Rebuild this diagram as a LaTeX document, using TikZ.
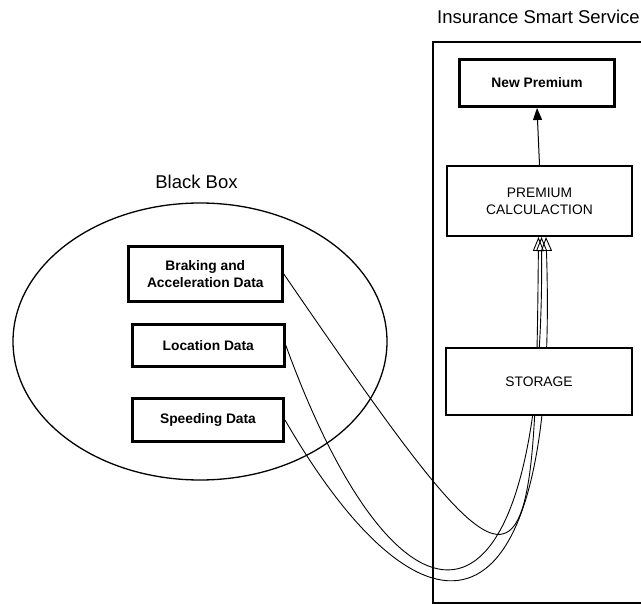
\documentclass[tikz,border=0pt]{standalone}
\usepackage{fontspec}
\setmainfont{Liberation Sans}
\usetikzlibrary{shapes}
\usetikzlibrary{positioning}
\usetikzlibrary{arrows.meta}

\begin{document}
\begin{tikzpicture}[
    x=1pt, y=-1pt,
    font=\fontsize{13.8}{16.7}\selectfont
]
\tikzset{
    databox/.style = {rectangle, draw=black, line width=3pt, align=center, inner sep=0pt, font=\fontsize{13.8}{16.7}\selectfont\bfseries},
    procbox/.style = {rectangle, draw=black, line width=2pt, align=center, inner sep=0pt, fill=white},
    groupline/.style = {draw=black, line width=1.3pt},
    title/.style = {anchor=base, font=\fontsize{18.5}{22}\selectfont},
    edgep/.style = {-{Triangle[length=12pt,width=9pt]}, line width=1pt},
    edged/.style = {-{Triangle[open,length=14pt,width=11pt]}, line width=0.9pt}
}
\useasboundingbox (0,0) rectangle (641,604);
% service frame and black box
\draw[groupline] (641,42) -- (433,42) -- (433,603) -- (641,603);
\node[ellipse, groupline, minimum width=374pt, minimum height=277pt] at (200,341.5) (blackbox) {};
\node[title] at (538.5,23.3) (servicetitle) {Insurance Smart Service};
\node[title] at (196.5,188.3) (boxtitle) {Black Box};
% data
\node[databox, minimum width=154pt, minimum height=55pt] at (205.3,274) (brake) {Braking and\\Acceleration Data};
\node[databox, minimum width=152pt, minimum height=42pt] at (208.3,345.3) (loc) {Location Data};
\node[databox, minimum width=151pt, minimum height=43pt] at (208,420) (speed) {Speeding Data};
% service
\node[databox, minimum width=155pt, minimum height=47pt] at (537,83) (newprem) {New Premium};
\node[procbox, minimum width=185pt, minimum height=70pt] at (539.5,201) (calc) {PREMIUM\\CALCULACTION};
\draw[edgep] (calc.north) -- (newprem.south);
\draw[edged] (brake.east) .. controls (525,625) and (535,625) .. ([xshift=-1pt]calc.south);
\draw[edged] (loc.east) .. controls (400,659) and (545,659) .. ([xshift=2pt]calc.south);
\draw[edged] (speed.east) .. controls (422,657) and (560,657) .. ([xshift=6.5pt]calc.south);
\node[procbox, minimum width=186pt, minimum height=67pt] at (539,381.5) (storage) {STORAGE};
\end{tikzpicture}
\end{document}
